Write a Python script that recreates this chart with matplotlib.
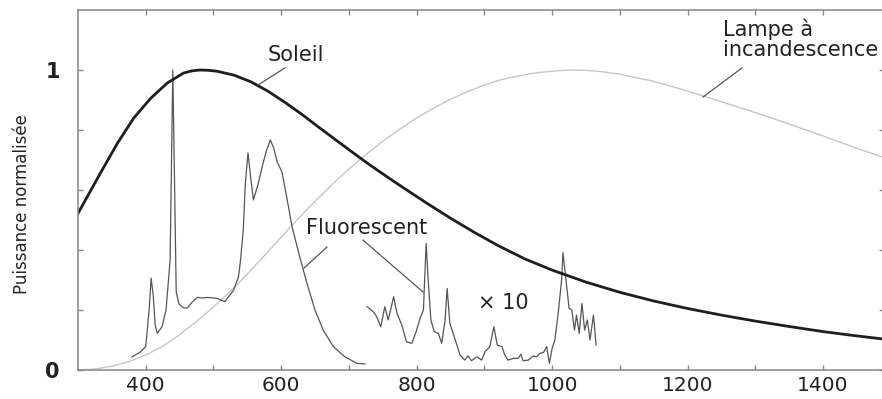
import matplotlib
matplotlib.use("Agg")
import matplotlib.pyplot as plt

plt.rcParams['font.family'] = ['DejaVu Sans']

# ---- data ----
sun_nm = [300, 333, 358, 382, 407, 432, 456, 468, 480, 492, 505, 530, 555, 580, 605,
          630, 655, 680, 705, 730, 755, 780, 815, 850, 885, 920, 960, 1000, 1050,
          1100, 1150, 1200, 1250, 1300, 1350, 1400, 1445, 1490]
sun_val = [0.522, 0.656, 0.755, 0.839, 0.905, 0.957, 0.99, 0.997, 1.0, 0.999, 0.996,
           0.983, 0.961, 0.930, 0.893, 0.853, 0.810, 0.768, 0.726, 0.685, 0.646,
           0.608, 0.556, 0.506, 0.459, 0.415, 0.370, 0.333, 0.293, 0.259, 0.230,
           0.205, 0.183, 0.163, 0.145, 0.128, 0.115, 0.103]

lamp_nm = [300, 325, 350, 375, 400, 425, 450, 475, 500, 525, 550, 575, 600, 625, 650,
           675, 700, 725, 750, 775, 800, 825, 850, 875, 900, 925, 950, 975, 1000,
           1025, 1050, 1075, 1100, 1150, 1200, 1250, 1300, 1350, 1400, 1445, 1490]
lamp_val = [0.0, 0.003, 0.0125, 0.028, 0.05, 0.079, 0.1175, 0.162, 0.21, 0.2625,
            0.32, 0.381, 0.4425, 0.504, 0.5625, 0.618, 0.67, 0.718, 0.7625, 0.803,
            0.84, 0.873, 0.9025, 0.928, 0.95, 0.968, 0.98, 0.99, 0.996, 1.0, 0.999,
            0.994, 0.986, 0.962, 0.93, 0.894, 0.858, 0.82, 0.78, 0.743, 0.708]

fluo_vis_nm = [380, 392, 400, 405, 408, 411, 414, 417, 424, 430, 436, 440, 445, 449,
               455, 461, 468, 476, 484, 491, 505, 517, 530, 537, 540, 544, 547, 551,
               555, 559, 566, 572, 578, 584, 589, 594, 601, 608, 616, 626, 638, 650,
               662, 677, 694, 712, 724]
fluo_vis_val = [0.044, 0.06, 0.078, 0.2, 0.306, 0.25, 0.15, 0.122, 0.144, 0.2, 0.367,
                1.0, 0.26, 0.22, 0.208, 0.206, 0.225, 0.242, 0.24, 0.242, 0.239, 0.228,
                0.267, 0.311, 0.367, 0.467, 0.62, 0.724, 0.64, 0.567, 0.62, 0.678,
                0.73, 0.767, 0.74, 0.694, 0.661, 0.578, 0.478, 0.389, 0.289, 0.2,
                0.133, 0.078, 0.044, 0.022, 0.02]

fluo_ir_nm = [727, 736, 741, 747, 753, 758, 766, 771, 778, 785, 793, 800, 805, 810,
              814, 817, 821, 826, 832, 837, 842, 845, 849, 857, 864, 871, 876, 881,
              889, 896, 901, 908, 914, 919, 926, 930, 935, 943, 950, 954, 957, 965,
              972, 977, 982, 987, 992, 996, 1000, 1004, 1009, 1014, 1016, 1020, 1025,
              1029, 1033, 1036, 1040, 1044, 1048, 1052, 1056, 1061, 1065]
fluo_ir_val = [0.211, 0.194, 0.178, 0.144, 0.211, 0.167, 0.244, 0.189, 0.15, 0.094,
               0.089, 0.133, 0.172, 0.2, 0.422, 0.3, 0.167, 0.128, 0.122, 0.089, 0.167,
               0.272, 0.156, 0.1, 0.05, 0.033, 0.047, 0.031, 0.044, 0.033, 0.061,
               0.078, 0.144, 0.083, 0.078, 0.05, 0.033, 0.039, 0.039, 0.053, 0.031,
               0.033, 0.047, 0.044, 0.056, 0.058, 0.078, 0.022, 0.072, 0.1, 0.189,
               0.3, 0.391, 0.311, 0.206, 0.2, 0.133, 0.183, 0.122, 0.222, 0.133,
               0.167, 0.1, 0.183, 0.083]

x_ticks = [400, 500, 600, 700, 800, 900, 1000, 1100, 1200, 1300, 1400]
x_labels = ['400', '', '600', '', '800', '', '1000', '', '1200', '', '1400']
y_ticks = [0, 0.2, 0.4, 0.6, 0.8, 1.0]
y_labels = ['0', '', '', '', '', '1']

# ---- figure ----
fig = plt.figure(figsize=(8.82, 3.99), dpi=100)
ax = fig.add_axes([78 / 882, 1 - 370 / 399, 806 / 882, 360 / 399])
ax.set_xlim(300, 1490)
ax.set_ylim(0, 1.2)

ax.plot(lamp_nm, lamp_val, color='#c6c6c6', lw=1.0)
ax.plot(fluo_vis_nm, fluo_vis_val, color='#555555', lw=0.9)
ax.plot(fluo_ir_nm, fluo_ir_val, color='#555555', lw=0.9)
ax.plot(sun_nm, sun_val, color='#1e1e1e', lw=2.0, solid_joinstyle='round')

ax.set_xticks(x_ticks)
ax.set_xticklabels(x_labels)
ax.set_yticks(y_ticks)
ax.set_yticklabels(y_labels, fontweight='bold')

for s in ax.spines.values():
    s.set_color('#858585')
    s.set_linewidth(1.1)

ax.tick_params(axis='both', direction='in', length=3.6, width=1.0, color='#858585',
               top=True, right=True, labelsize=15, labelcolor='#222222')
ax.tick_params(axis='x', pad=4, labelsize=14.5)
ax.tick_params(axis='y', pad=13)

# ---- annotations ----
tc = '#222222'
lc = '#555555'
ax.text(580.5, 1.05, 'Soleil', fontsize=15, color=tc, ha='left', va='center')
ax.plot([605.6, 565.8], [1.007, 0.95], color=lc, lw=0.9)

ax.text(1252.3, 1.173, 'Lampe à\nincandescence', fontsize=15, color=tc,
        ha='left', va='top', linespacing=1.05)
ax.plot([1280.4, 1222.8], [1.007, 0.91], color=lc, lw=0.9)

ax.text(636.6, 0.473, 'Fluorescent', fontsize=15, color=tc, ha='left', va='center')
ax.plot([667.6, 633.7], [0.41, 0.34], color=lc, lw=0.9)
ax.plot([720.8, 809.4], [0.433, 0.26], color=lc, lw=0.9)

ax.text(890.6, 0.223, '× 10', fontsize=15, color=tc, ha='left', va='center')

fig.text(22 / 882, 1 - 204 / 399, 'Puissance normalisée', rotation=90,
         ha='center', va='center', fontsize=12, color=tc)

fig.savefig('out.png', dpi=100)
